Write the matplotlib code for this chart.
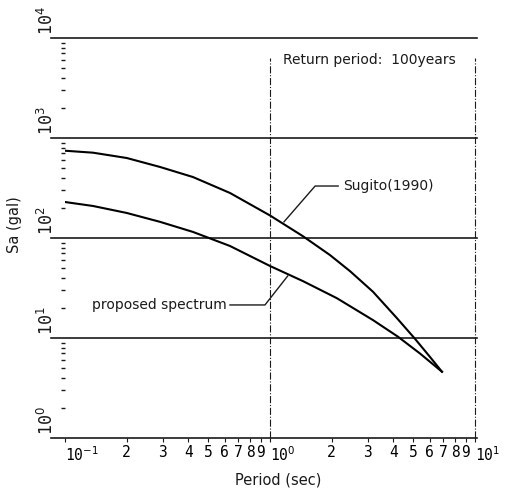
import matplotlib.pyplot as plt
import numpy as np
from matplotlib.transforms import blended_transform_factory

# values (period in sec, Sa in gal)
period_sugito = [0.1, 0.137, 0.2, 0.291, 0.421, 0.638, 1.0, 1.45, 1.96, 2.46,
                 3.18, 4.16, 5.10, 6.03, 6.9]
sa_sugito = [746, 713, 631, 513, 407, 282, 168, 104, 67.6, 46.5,
             29.0, 15.8, 9.8, 6.47, 4.6]

period_proposed = [0.1, 0.137, 0.2, 0.291, 0.421, 0.638, 1.0, 1.45, 2.12,
                   3.18, 4.21, 5.39, 6.9]
sa_proposed = [229, 209, 178, 145, 115, 83.2, 52.5, 37.0, 25.0,
               15.1, 10.3, 7.0, 4.6]

y_decades = [1, 10, 100, 1000, 10000]
y_labels = ['10$^{0}$', '10$^{1}$', '10$^{2}$', '10$^{3}$', '10$^{4}$']
x_major = [0.1, 1, 10]
x_major_labels = ['10$^{-1}$', '10$^{0}$', '10$^{1}$']
subs = [2, 3, 4, 5, 6, 7, 8, 9]

ink = '#1a1a1a'
mono = 'DejaVu Sans Mono'

fig = plt.figure(figsize=(5.05, 4.91), dpi=100)
ax = fig.add_axes([65 / 505, 53 / 491, 410 / 505, 400 / 491])
ax.set_xscale('log')
ax.set_yscale('log')
ax.set_xlim(0.1, 10)
ax.set_ylim(1, 1e4)
for s in ax.spines.values():
    s.set_visible(False)

# horizontal decade lines, running a little past the left edge
for v in y_decades:
    ax.axhline(v, xmin=-0.035, xmax=1.005, color=ink, lw=1.2, clip_on=False)
ax.axvline(1, ymax=0.95, color=ink, lw=0.8, ls='-.')
ax.axvline(10, ymax=0.95, color=ink, lw=0.8, ls='-.', clip_on=False)

# curves
ax.plot(period_sugito, sa_sugito, color='black', lw=1.5)
ax.plot(period_proposed, sa_proposed, color='black', lw=1.5)

# x ticks
ax.set_xticks(x_major)
ax.set_xticklabels(x_major_labels, fontfamily=mono, fontsize=10.5)
for lab in ax.get_xticklabels():
    lab.set_ha('left')
minor_x = [d * s for d in [0.1, 1] for s in subs]
ax.set_xticks(minor_x, minor=True)
ax.set_xticklabels([str(s) for d in [0.1, 1] for s in subs], minor=True,
                   fontfamily=mono, fontsize=10.5)
ax.tick_params(axis='x', which='both', direction='out', length=3, width=0.8,
               color=ink, pad=2)

# y ticks: minor marks only, labels drawn rotated
ax.set_yticks([])
ax.set_yticks([d * s for d in y_decades[:-1] for s in subs], minor=True)
ax.set_yticklabels([], minor=True)
ax.tick_params(axis='y', which='minor', direction='out', length=3, width=1.0,
               color=ink)
tr = blended_transform_factory(ax.transAxes, ax.transData)
for v, lab in zip(y_decades, y_labels):
    ax.text(-0.045, v * 1.07, lab, transform=tr, rotation=90, ha='center',
            va='bottom', fontfamily=mono, fontsize=12, color=ink)

fig.text(15 / 505, 1 - 225 / 491, 'Sa (gal)', rotation=90, ha='center',
         va='center', fontsize=10.5, color=ink)
fig.text(278 / 505, 1 - 480 / 491, 'Period (sec)', ha='center', va='center',
         fontsize=10.5, color=ink)

ax.text(1.157, 6000, 'Return period:  100years', ha='left', va='center',
        fontsize=10, color=ink)

# leader labels
ax.plot([1.17, 1.66, 2.15], [145, 331, 331], color=ink, lw=1.0)
ax.text(2.27, 331, 'Sugito(1990)', ha='left', va='center', fontsize=10, color=ink)
ax.plot([1.22, 0.945, 0.638], [41.7, 21.4, 21.4], color=ink, lw=1.0)
ax.text(0.617, 21.4, 'proposed spectrum', ha='right', va='center', fontsize=10,
        color=ink)

fig.savefig('out.png', dpi=100)
